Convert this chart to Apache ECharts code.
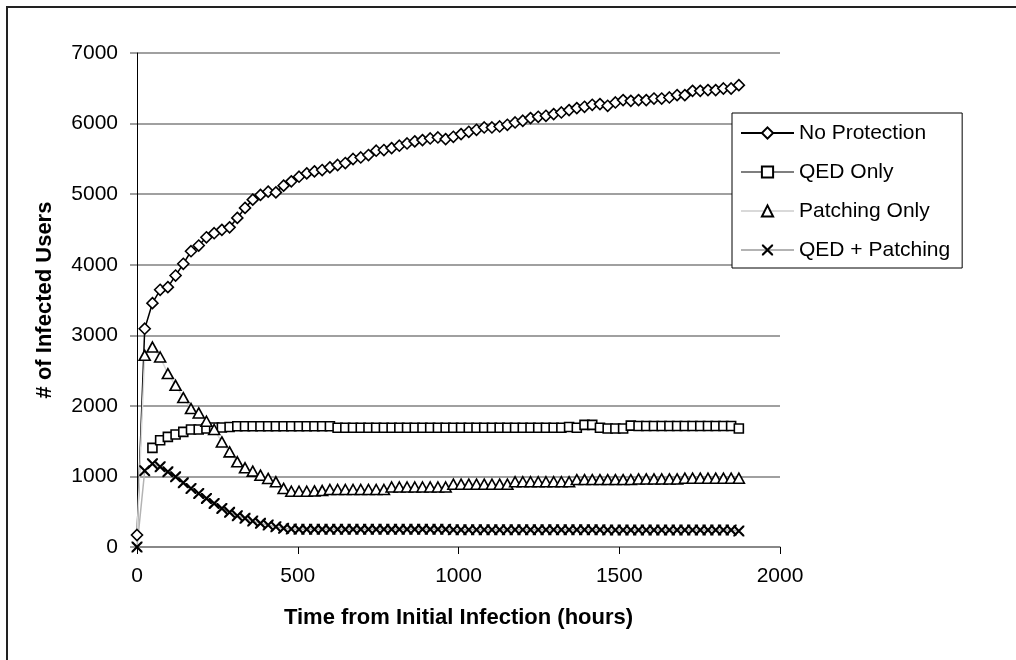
<!DOCTYPE html>
<html>
<head>
<meta charset="utf-8">
<script src="https://cdn.jsdelivr.net/npm/echarts@6/dist/echarts.min.js"></script>
<style>
  html, body { margin: 0; padding: 0; background: #fff; }
  #chart { width: 1016px; height: 660px; }
</style>
</head>
<body>
<div id="chart"></div>
<script>
// hours since initial infection (one sample per day)
const hours = [0, 24, 48, 72, 96, 120, 144, 168, 192, 216,
  240, 264, 288, 312, 336, 360, 384, 408, 432, 456,
  480, 504, 528, 552, 576, 600, 624, 648, 672, 696,
  720, 744, 768, 792, 816, 840, 864, 888, 912, 936,
  960, 984, 1008, 1032, 1056, 1080, 1104, 1128, 1152, 1176,
  1200, 1224, 1248, 1272, 1296, 1320, 1344, 1368, 1392, 1416,
  1440, 1464, 1488, 1512, 1536, 1560, 1584, 1608, 1632, 1656,
  1680, 1704, 1728, 1752, 1776, 1800, 1824, 1848, 1872];

const noProtection = [170, 3093, 3455, 3645, 3682, 3847, 4013, 4191, 4272, 4389,
  4446, 4494, 4530, 4663, 4805, 4922, 4989, 5035, 5025, 5120,
  5181, 5247, 5294, 5322, 5342, 5379, 5413, 5441, 5498, 5520,
  5554, 5615, 5625, 5653, 5686, 5718, 5747, 5766, 5789, 5803,
  5780, 5813, 5851, 5884, 5912, 5945, 5945, 5959, 5983, 6016,
  6040, 6078, 6096, 6110, 6134, 6157, 6191, 6219, 6238, 6266,
  6276, 6252, 6299, 6333, 6322, 6333, 6333, 6355, 6355, 6370,
  6403, 6403, 6464, 6464, 6474, 6474, 6497, 6497, 6544];

const qedOnly = [null, null, 1405, 1513, 1560, 1594, 1631, 1665, 1665, 1679,
  1693, 1693, 1700, 1711, 1711, 1711, 1711, 1711, 1711, 1711,
  1711, 1711, 1711, 1711, 1711, 1711, 1690, 1690, 1690, 1690,
  1690, 1690, 1690, 1690, 1690, 1690, 1690, 1690, 1690, 1690,
  1690, 1690, 1690, 1690, 1690, 1690, 1690, 1690, 1690, 1690,
  1690, 1690, 1690, 1690, 1690, 1690, 1700, 1690, 1730, 1730,
  1690, 1680, 1680, 1680, 1720, 1715, 1715, 1715, 1715, 1715,
  1715, 1715, 1715, 1715, 1715, 1715, 1715, 1715, 1680];

const patchingOnly = [170, 2716, 2833, 2692, 2457, 2291, 2117, 1962, 1900, 1782,
  1665, 1489, 1348, 1207, 1122, 1075, 1018, 972, 924, 830,
  790, 790, 790, 795, 800, 815, 815, 815, 815, 815,
  815, 815, 815, 850, 850, 850, 850, 850, 850, 850,
  850, 890, 890, 890, 890, 890, 890, 890, 890, 925,
  925, 925, 925, 925, 925, 925, 925, 955, 955, 955,
  955, 955, 955, 955, 955, 965, 965, 965, 965, 965,
  965, 975, 975, 975, 975, 975, 975, 975, 975];

const qedPatching = [0, 1080, 1180, 1136, 1065, 994, 909, 830, 759, 689,
  618, 547, 491, 443, 406, 368, 335, 311, 287, 264,
  255, 250, 250, 250, 250, 250, 250, 250, 250, 250,
  250, 250, 250, 250, 250, 250, 250, 250, 250, 250,
  250, 245, 245, 245, 245, 245, 245, 245, 245, 245,
  245, 245, 245, 245, 245, 245, 245, 245, 245, 245,
  245, 240, 240, 240, 240, 240, 240, 240, 240, 240,
  240, 240, 240, 240, 240, 240, 240, 240, 226];

const seriesNames = ['No Protection', 'QED Only', 'Patching Only', 'QED + Patching'];

const FONT = 'Liberation Sans, Arial, sans-serif';
const crossPath = 'path://M0,0L1.4,0L10,8.6L10,10L8.6,10L0,1.4Z M8.6,0L10,0L10,1.4L1.4,10L0,10L0,8.6Z';

// pair hours with values; hideFirst drops the marker on the starting point
function toPoints(values, hideFirst) {
  return values.map((v, i) => {
    if (v === null) return [hours[i], null];
    if (hideFirst && i === 0) return { value: [hours[i], v], symbol: 'none' };
    return [hours[i], v];
  });
}

const plain = v => String(v);

const chart = echarts.init(document.getElementById('chart'));

chart.setOption({
  animation: false,
  backgroundColor: '#fff',
  textStyle: { fontFamily: FONT, color: '#000' },
  graphic: [{
    type: 'rect',
    shape: { x: 7, y: 7, width: 1030, height: 680 },
    style: { fill: 'none', stroke: '#222', lineWidth: 2 },
    silent: true
  }],
  grid: { left: 137, right: 236, top: 53, bottom: 113 },
  legend: {
    orient: 'vertical',
    left: 732,
    top: 113,
    padding: [8, 12, 6, 8],
    itemWidth: 53,
    itemHeight: 14,
    itemGap: 15,
    borderColor: '#000',
    borderWidth: 1,
    backgroundColor: '#fff',
    textStyle: { fontFamily: FONT, fontSize: 21, color: '#000', lineHeight: 24 },
    data: seriesNames
  },
  xAxis: {
    type: 'value',
    min: 0,
    max: 2000,
    interval: 500,
    name: 'Time from Initial Infection (hours)',
    nameLocation: 'middle',
    nameGap: 60,
    nameTextStyle: { fontFamily: FONT, fontSize: 22, fontWeight: 'bold', color: '#000' },
    axisLine: { show: true, onZero: false, lineStyle: { color: '#808080', width: 1.5 } },
    axisTick: { show: true, length: 7, lineStyle: { color: '#000', width: 1 } },
    axisLabel: { fontFamily: FONT, fontSize: 21, color: '#000', margin: 19, formatter: plain },
    splitLine: { show: false }
  },
  yAxis: {
    type: 'value',
    min: 0,
    max: 7000,
    interval: 1000,
    name: '# of Infected Users',
    nameLocation: 'middle',
    nameGap: 81,
    nameTextStyle: { fontFamily: FONT, fontSize: 22, fontWeight: 'bold', color: '#000' },
    axisLine: { show: true, lineStyle: { color: '#000', width: 1 } },
    axisTick: { show: true, length: 7, lineStyle: { color: '#808080', width: 1.5 } },
    axisLabel: { fontFamily: FONT, fontSize: 21, color: '#000', margin: 19, formatter: plain },
    splitLine: { show: true, lineStyle: { color: '#808080', width: 1.5 } }
  },
  series: [
    {
      name: seriesNames[0],
      type: 'line',
      data: toPoints(noProtection, false),
      symbol: 'diamond',
      symbolSize: [11, 11],
      lineStyle: { color: '#000', width: 1.5 },
      itemStyle: { color: '#fff', borderColor: '#000', borderWidth: 1.6 }
    },
    {
      name: seriesNames[1],
      type: 'line',
      data: toPoints(qedOnly, false),
      symbol: 'rect',
      symbolSize: [9, 9],
      connectNulls: false,
      lineStyle: { color: '#7f7f7f', width: 1.5 },
      itemStyle: { color: '#fff', borderColor: '#000', borderWidth: 1.6 }
    },
    {
      name: seriesNames[2],
      type: 'line',
      data: toPoints(patchingOnly, true),
      symbol: 'triangle',
      symbolSize: [11, 10],
      lineStyle: { color: '#d9d9d9', width: 1.5 },
      itemStyle: { color: '#fff', borderColor: '#000', borderWidth: 1.6 }
    },
    {
      name: seriesNames[3],
      type: 'line',
      data: toPoints(qedPatching, false),
      symbol: crossPath,
      symbolSize: [11, 11],
      lineStyle: { color: '#b3b3b3', width: 1.5 },
      itemStyle: { color: '#000', borderWidth: 0 }
    }
  ]
});
</script>
</body>
</html>
